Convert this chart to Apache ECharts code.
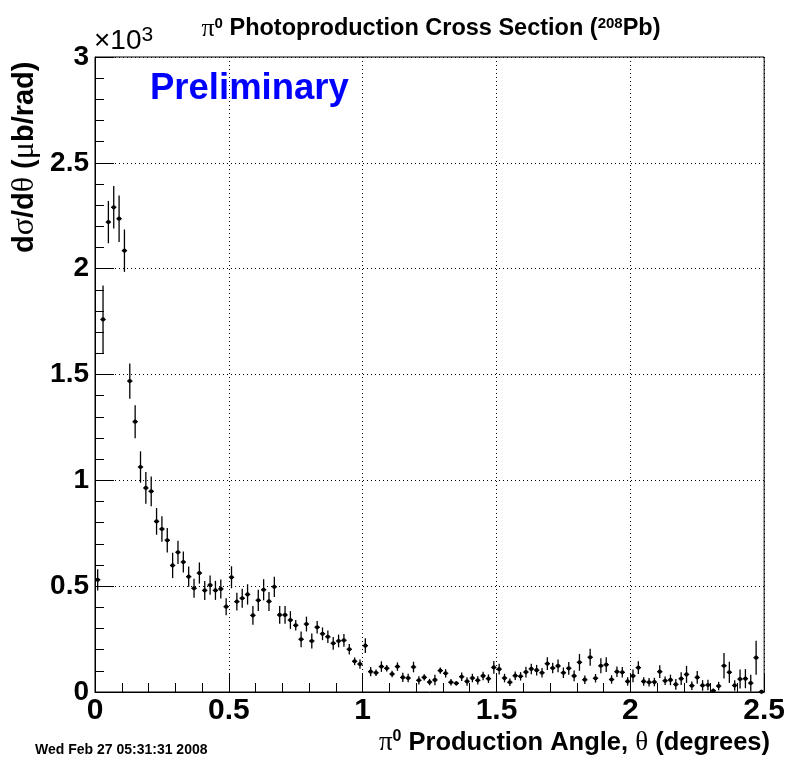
<!DOCTYPE html>
<html>
<head>
<meta charset="utf-8">
<script src="https://cdn.jsdelivr.net/npm/echarts@6/dist/echarts.min.js"></script>
<style>html,body{margin:0;padding:0;background:#fff;}#c{width:788px;height:767px;}</style>
</head>
<body>
<div id="c"></div>
<script>
// Bin centres (degrees), bin width 0.02
var binWidth = 0.02;
// Cross section values (x10^3 ub/rad), one per bin starting at 0.01
var values = [
0.53,1.76,2.22,2.29,2.236,2.085,1.469,1.277,1.063,0.964,
0.948,0.806,0.770,0.717,0.598,0.66,0.614,0.545,0.49,0.562,
0.48,0.505,0.48,0.487,0.403,0.542,0.427,0.443,0.461,0.362,
0.433,0.483,0.428,0.497,0.364,0.364,0.34,0.315,0.249,0.321,
0.241,0.306,0.275,0.261,0.23,0.241,0.244,0.202,0.145,0.132,
0.219,0.096,0.091,0.12,0.112,0.085,0.12,0.069,0.066,0.118,
0.055,0.069,0.047,0.057,0.101,0.088,0.046,0.041,0.072,0.05,
0.066,0.055,0.076,0.063,0.116,0.108,0.066,0.046,0.077,0.074,
0.094,0.109,0.103,0.091,0.134,0.113,0.123,0.091,0.112,0.076,
0.14,0.058,0.164,0.065,0.124,0.129,0.059,0.096,0.093,0.05,
0.076,0.115,0.05,0.046,0.047,0.096,0.053,0.057,0.036,0.063,
0.083,0.03,0.069,0.031,0.033,0.006,0.028,0.124,0.093,0.031,
0.061,0.063,0.042,0.162,0.001
];
// Statistical errors (same units)
var errors = [
0.05,0.16,0.10,0.10,0.11,0.10,0.083,0.078,0.074,0.075,
0.07,0.063,0.06,0.058,0.06,0.055,0.05,0.048,0.045,0.05,
0.045,0.045,0.045,0.045,0.04,0.052,0.042,0.045,0.048,0.044,
0.05,0.05,0.045,0.048,0.042,0.042,0.042,0.025,0.037,0.035,
0.035,0.03,0.03,0.03,0.03,0.03,0.03,0.025,0.018,0.022,
0.035,0.022,0.015,0.025,0.015,0.015,0.02,0.022,0.02,0.025,
0.02,0.015,0.015,0.025,0.015,0.02,0.015,0.01,0.02,0.02,
0.02,0.02,0.02,0.02,0.03,0.025,0.02,0.018,0.02,0.02,
0.025,0.025,0.025,0.022,0.03,0.025,0.03,0.025,0.03,0.025,
0.04,0.02,0.04,0.02,0.035,0.035,0.02,0.025,0.025,0.02,
0.03,0.03,0.02,0.02,0.02,0.03,0.02,0.025,0.025,0.03,
0.04,0.02,0.03,0.025,0.025,0.01,0.02,0.06,0.05,0.025,
0.045,0.045,0.04,0.08,0.01
];
var xTicks = [0, 0.5, 1, 1.5, 2, 2.5];
var yTicks = [0, 0.5, 1, 1.5, 2, 2.5, 3];

var data = values.map(function (v, i) {
  return [binWidth * i + binWidth / 2, v, errors[i]];
});

var FONT = '"Liberation Sans", Arial, Helvetica, sans-serif';
var SERIF = '"Liberation Serif", "DejaVu Serif", serif';

var chart = echarts.init(document.getElementById('c'), null, {renderer: 'canvas'});

function axisCommon(ticks) {
  return {
    min: ticks[0], max: ticks[ticks.length - 1], interval: 0.5,
    axisLine: {show: true, onZero: false, lineStyle: {color: '#000', width: 1}},
    axisTick: {show: true, inside: true, length: 19, lineStyle: {color: '#000', width: 1}},
    minorTick: {show: true, splitNumber: 5, length: 9, lineStyle: {color: '#000', width: 1}},
    splitLine: {show: true, lineStyle: {color: '#000', width: 1, type: [1, 3]}},
    minorSplitLine: {show: false}
  };
}

var xa = axisCommon(xTicks);
xa.type = 'value';
xa.axisLabel = {color: '#000', fontFamily: FONT, fontWeight: 'bold', fontSize: 30, margin: 4,
  formatter: function (v) { return String(v); }};
var ya = axisCommon(yTicks);
ya.type = 'value';
ya.axisLabel = {color: '#000', fontFamily: FONT, fontWeight: 'bold', fontSize: 28, margin: 6,
  formatter: function (v) { return String(v); }};

chart.setOption({
  animation: false,
  backgroundColor: '#fff',
  grid: {left: 95, right: 23, top: 57, bottom: 75, show: true, borderColor: '#000', borderWidth: 1, backgroundColor: 'transparent'},
  xAxis: xa,
  yAxis: ya,
  series: [{
    type: 'custom',
    data: data,
    clip: false,
    renderItem: function (params, api) {
      var x = api.value(0), y = api.value(1), e = api.value(2);
      var c = api.coord([x, y]);
      var top = api.coord([x, y + e]);
      var bot = api.coord([x, Math.max(0, y - e)]);
      var left = api.coord([x - binWidth / 2, y]);
      var right = api.coord([x + binWidth / 2, y]);
      var st = {stroke: '#000', lineWidth: 1.3};
      return {
        type: 'group',
        children: [
          {type: 'line', shape: {x1: c[0], y1: top[1], x2: c[0], y2: bot[1]}, style: st},
          {type: 'line', shape: {x1: left[0], y1: c[1], x2: right[0], y2: c[1]}, style: st},
          {type: 'circle', shape: {cx: c[0], cy: c[1], r: 2.1}, style: {fill: '#000'}}
        ]
      };
    }
  }],
  graphic: [
    {type: 'text', x: 431, y: 16, style: {
      text: '{g|π}{sup|0}{b| Photoproduction Cross Section (}{sup|208}{b|Pb)}',
      textAlign: 'center',
      rich: {
        g: {fontFamily: SERIF, fontSize: 26, fill: '#000'},
        b: {fontFamily: FONT, fontWeight: 'bold', fontSize: 23.5, fill: '#000'},
        sup: {fontFamily: FONT, fontWeight: 'bold', fontSize: 15, fill: '#000', padding: [0, 0, 10, 0]}
      }
    }},
    {type: 'text', left: 94, top: 25, style: {text: '×10{s|3}', fontFamily: FONT, fontSize: 28, fill: '#000',
      rich: {s: {fontFamily: FONT, fontSize: 21, fill: '#000', padding: [0, 0, 12, 0]}}}},
    {type: 'text', left: 150, top: 70, style: {text: 'Preliminary', fontFamily: FONT, fontWeight: 'bold', fontSize: 36.5, fill: '#0000ff'}},
    {type: 'text', left: 35, top: 743, style: {text: 'Wed Feb 27 05:31:31 2008', fontFamily: FONT, fontWeight: 'bold', fontSize: 14, fill: '#000'}},
    {type: 'text', right: 18, top: 729, style: {
      text: '{g|π}{sup|0}{b| Production Angle, }{g|θ}{b| (degrees)}',
      rich: {
        g: {fontFamily: SERIF, fontSize: 27, fill: '#000'},
        b: {fontFamily: FONT, fontWeight: 'bold', fontSize: 25.5, fill: '#000'},
        sup: {fontFamily: FONT, fontWeight: 'bold', fontSize: 16, fill: '#000', padding: [0, 0, 11, 0]}
      }
    }},
    {type: 'text', x: 9, y: 253, rotation: Math.PI / 2, style: {
      text: '{b|d}{g|σ}{b|/d}{g|θ}{b| (}{g|μ}{b|b/rad)}',
      rich: {
        g: {fontFamily: SERIF, fontSize: 32, fill: '#000'},
        b: {fontFamily: FONT, fontWeight: 'bold', fontSize: 29, fill: '#000'}
      }
    }}
  ]
});
</script>
</body>
</html>
